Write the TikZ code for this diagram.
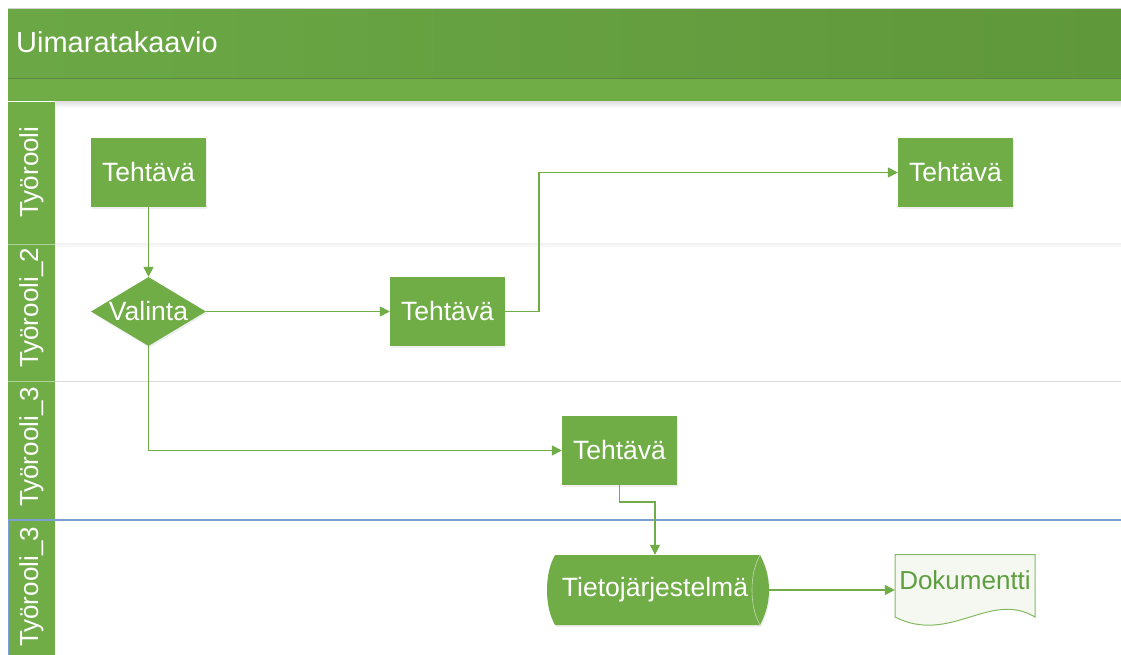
\documentclass[tikz,border=0pt]{standalone}
\usepackage{fontspec}
\setmainfont{Liberation Sans}
\usetikzlibrary{arrows.meta,shapes.geometric,shadows}
\definecolor{office}{HTML}{70AD47}
\definecolor{titleL}{HTML}{6BA845}
\definecolor{titleR}{HTML}{5F973B}
\definecolor{laneblue}{HTML}{7C9FD3}
\definecolor{doctxt}{HTML}{5E9E3E}
\definecolor{docfill}{HTML}{F4F8F1}
\begin{document}
\begin{tikzpicture}[x=1pt,y=-1pt,
  boxtext/.style={text=white,font=\fontsize{26.5}{31}\selectfont},
  task/.style={rectangle,fill=office,boxtext,minimum width=115pt,minimum height=69pt,inner sep=0pt,
    drop shadow={opacity=0.12,shadow xshift=1pt,shadow yshift=-2pt}},
  decision/.style={diamond,fill=office,boxtext,minimum width=115pt,minimum height=69pt,inner sep=0pt,aspect=1.67,
    drop shadow={opacity=0.12,shadow xshift=1pt,shadow yshift=-2pt}},
  sysnode/.style={rectangle,boxtext,minimum width=228pt,minimum height=70pt,inner sep=0pt},
  docbox/.style={rectangle,minimum width=140pt,minimum height=72pt,inner sep=0pt},
  doclabel/.style={text=doctxt,font=\fontsize{26}{31}\selectfont,inner sep=0pt},
  lanelabel/.style={rotate=90,text=white,font=\fontsize{26}{31}\selectfont,inner sep=0pt},
  titletext/.style={text=white,font=\fontsize{29}{34}\selectfont,inner sep=0pt},
  conn/.style={draw=office,line width=1.5pt,-{Triangle[length=10pt,width=10pt]}}]
\useasboundingbox (0,0) rectangle (1121,655);
\fill[white] (0,0) rectangle (1121,655);

% header bars
\fill[black!18] (8,8) rectangle (1121,9.5);
\shade[left color=titleL,right color=titleR] (8,9.5) rectangle (1121,78);
\fill[black!12!titleR!80!gray] (8,77.6) rectangle (1121,78.6);
\fill[office] (8,78.6) rectangle (1121,101.5);
\shade[top color=black!12,bottom color=white] (55,101.5) rectangle (1121,108);
\node[titletext,anchor=base west] (title) at (16,53) {Uimaratakaavio};

% lane label column
\fill[office] (8,102.5) rectangle (55,655);
\draw[white!45!office,line width=0.8pt] (8,244.5) -- (55,244.5);
\draw[white!45!office,line width=0.8pt] (8,381) -- (55,381);

% lane separators
\shade[top color=black!5,bottom color=white] (55,243.5) rectangle (1121,248);
\draw[black!14,line width=0.8pt] (55,381) -- (1121,381);
\draw[laneblue,line width=1.3pt] (8,520) -- (1121,520);
\draw[laneblue,line width=0.8pt] (8.4,520) -- (8.4,655);

\node[lanelabel] (lane1) at (31.5,172) {Työrooli};
\node[lanelabel] (lane2) at (31.5,308) {Työrooli\_2};
\node[lanelabel] (lane3) at (31.5,447) {Työrooli\_3};
\node[lanelabel] (lane4) at (31.5,587) {Työrooli\_3};

% tasks and decision
\node[task] (t1) at (148.5,172.5) {Tehtävä};
\node[task] (t3) at (955.5,172.5) {Tehtävä};
\node[decision] (dec) at (148.5,311.5) {Valinta};
\node[task] (t2) at (447.5,311.5) {Tehtävä};
\node[task] (t4) at (619.5,450.5) {Tehtävä};

% information system (horizontal cylinder)
\fill[office,drop shadow={opacity=0.12,shadow xshift=1pt,shadow yshift=-2pt}]
  (555,555) -- (760,555)
  .. controls (766,566) and (769,578) .. (769,590)
  .. controls (769,602) and (766,614) .. (760,625)
  -- (555,625)
  .. controls (549,614) and (547,602) .. (547,590)
  .. controls (547,578) and (549,566) .. (555,555) -- cycle;
\draw[white!55!office,line width=0.6pt]
  (760,555) .. controls (754,566) and (752,578) .. (752,590)
  .. controls (752,602) and (754,614) .. (760,625);
\node[sysnode] (sys) at (655,590) {Tietojärjestelmä};

% document
\filldraw[fill=docfill,draw=office!85,line width=1pt]
  (895,554.5) -- (1035,554.5) -- (1035,617)
  .. controls (990,590) and (950,645) .. (895,617) -- cycle;
\node[docbox] (doc) at (965,590) {};
\node[doclabel] (doctext) at (965,580) {Dokumentti};

% connectors
\draw[conn] (t1.south) -- (dec.north);
\draw[conn] (dec.east) -- (t2.west);
\draw[conn] (t2.east) -- ++(34,0) |- (t3.west);
\draw[conn] (dec.south) |- (t4.west);
\draw[conn] (t4.south) -- ++(0,17) -| (sys.north);
\draw[conn] (sys.east) -- (sys.east -| doc.west);
\end{tikzpicture}
\end{document}
